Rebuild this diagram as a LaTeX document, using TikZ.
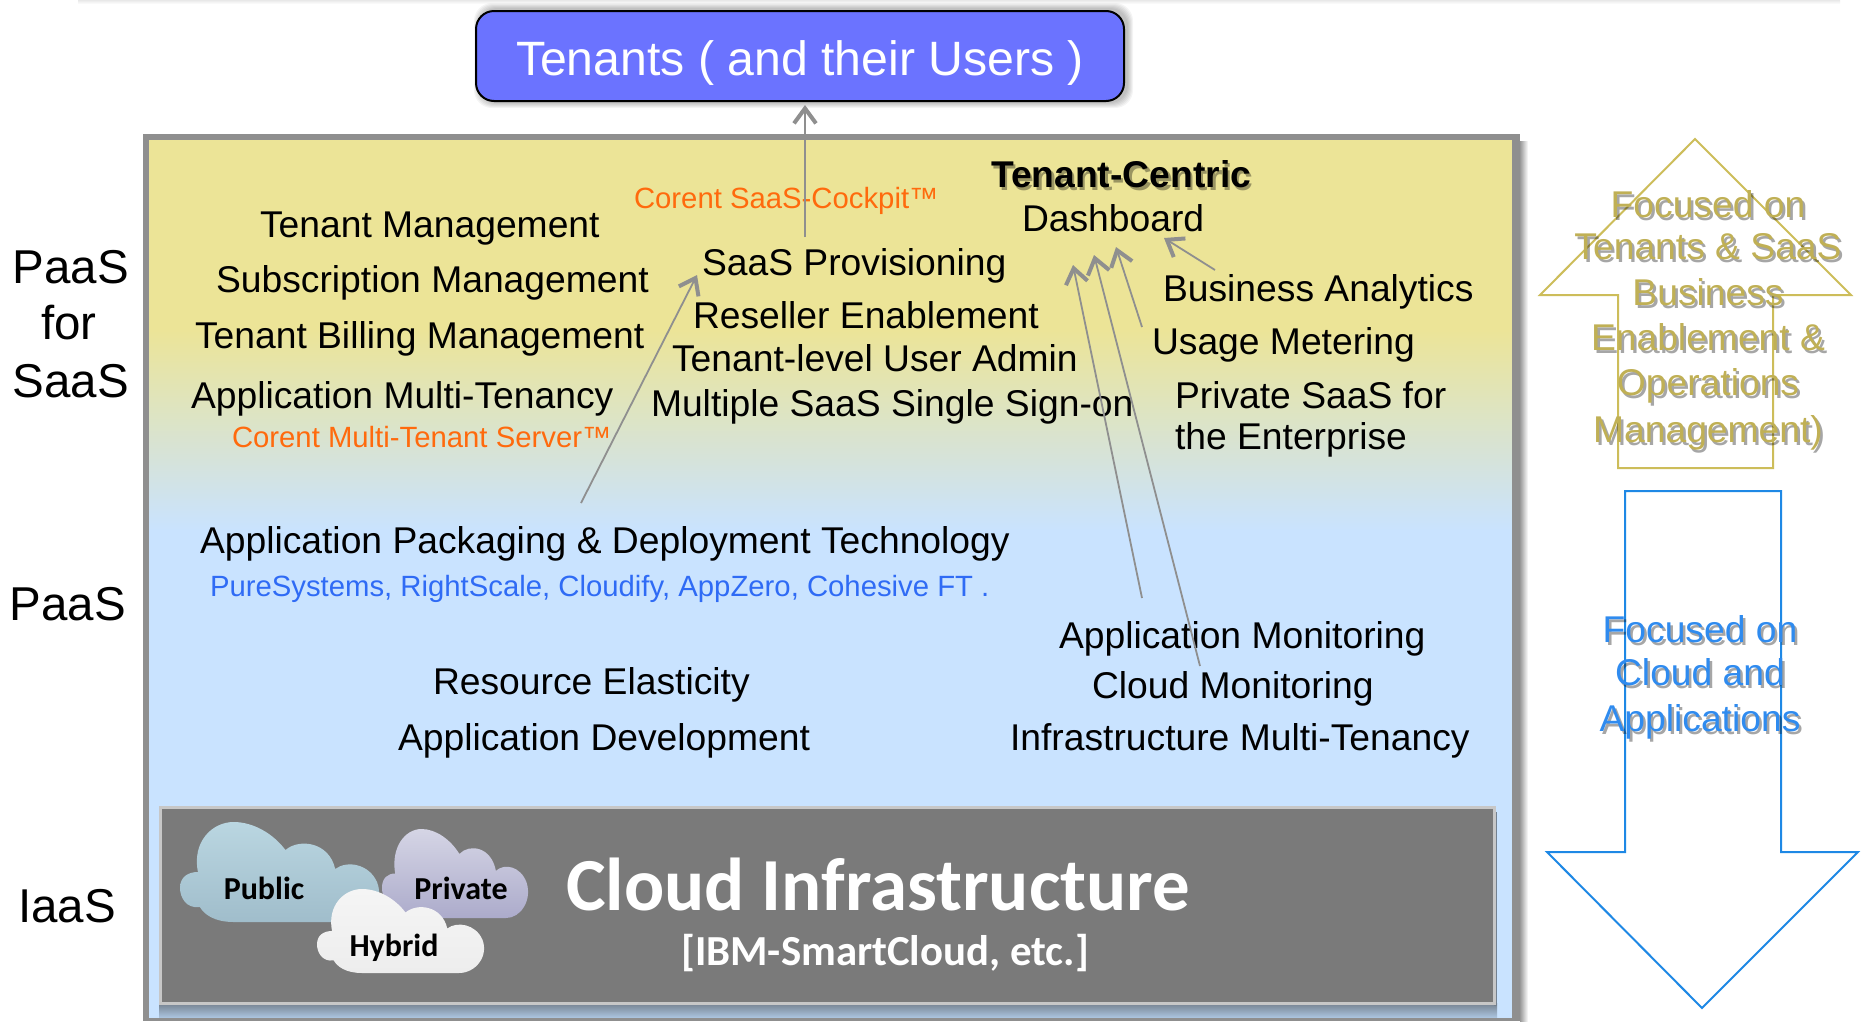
\documentclass[tikz,border=0pt]{standalone}
\usepackage{fontspec}
\setmainfont{Liberation Sans}
\newfontfamily\calfont{Carlito}
\usetikzlibrary{arrows.meta}
\definecolor{yel}{HTML}{ECE497}
\definecolor{sky}{HTML}{C9E3FF}
\definecolor{bord}{HTML}{8F8F8F}
\definecolor{gold}{HTML}{C0B055}
\definecolor{goldl}{HTML}{CDBD5A}
\definecolor{bluet}{HTML}{2F8BEF}
\definecolor{bluel}{HTML}{1E88E5}
\definecolor{orng}{HTML}{FF6A0D}
\definecolor{pure}{HTML}{2F6BF5}
\definecolor{tenb}{HTML}{6B73FF}
\definecolor{infra}{HTML}{7A7A7A}
\definecolor{pubt}{HTML}{BAD6E1}
\definecolor{pubb}{HTML}{A0BDCB}
\definecolor{prit}{HTML}{D5D5E5}
\definecolor{prib}{HTML}{ACABCB}
\definecolor{hybt}{HTML}{F5F5F5}
\definecolor{hybb}{HTML}{EDEDED}
\definecolor{shdt}{HTML}{74818F}
\definecolor{shdb}{HTML}{AAC3DD}
\tikzset{
  x=1pt,y=-1pt,
  txt/.style={inner sep=0pt,outer sep=0pt,anchor=base west,font=\fontsize{37.25}{37.25}\selectfont,text=black},
  small/.style={txt,font=\fontsize{29.3}{29.3}\selectfont},
  side/.style={inner sep=0pt,anchor=base,font=\fontsize{47.5}{47.5}\selectfont},
  foc/.style={inner sep=0pt,anchor=base,font=\fontsize{37.25}{37.25}\selectfont},
  cld/.style={inner sep=0pt,font=\calfont\bfseries\fontsize{32}{32}\selectfont,text=black},
  conn/.style={draw=bord,line width=1.8pt,-{Straight Barb[length=15pt,width=22pt,line width=4pt]},shorten >=0pt},
}
\newcommand{\cloudat}[6]{%
  \begin{scope}[shift={(#1,#2)},x=#3pt,y=-#4pt]
  \shade[top color=#5,bottom color=#6]
   (0.27,1) .. controls (0.17,1) and (0.12,0.92) .. (0.10,0.85)
   .. controls (0.03,0.87) and (0,0.75) .. (0,0.66)
   .. controls (0,0.55) and (0.04,0.5) .. (0.09,0.50)
   .. controls (0.06,0.2) and (0.16,0) .. (0.27,0)
   .. controls (0.37,0) and (0.47,0.12) .. (0.53,0.28)
   .. controls (0.6,0.16) and (0.75,0.2) .. (0.78,0.47)
   .. controls (0.84,0.38) and (0.95,0.42) .. (0.99,0.6)
   .. controls (1.03,0.8) and (0.95,1) .. (0.85,1) -- cycle;
  \end{scope}}
\newcommand{\shtext}[6]{% name, x, y, style, colour, text
  \node[#4,text=black,opacity=.35] (#1s) at (#2+2.5,#3+3) {#6};
  \node[#4,text=#5] (#1) at (#2,#3) {#6};}
\begin{document}
\begin{tikzpicture}
\useasboundingbox (0,0) rectangle (1864,1021);
\fill[white] (0,0) rectangle (1864,1021);
% top strip
\shade[top color=black!9,bottom color=white] (78,0) rectangle (1840,4);
% main panel
\shade[left color=black!40,right color=white] (1520,141) rectangle (1528,1021);
\fill[yel] (145,137) rectangle (1513,330);
\shade[top color=yel,bottom color=sky] (145,329) rectangle (1513,531);
\fill[sky] (145,530) rectangle (1513,1018);
\fill[bord] (143,134) rectangle (1520,140);
\fill[bord] (143,134) rectangle (149,1021);
\fill[bord] (1512,134) rectangle (1520,1021);
\fill[bord] (143,1018) rectangle (1520,1021);
% infrastructure
\shade[top color=shdt,bottom color=shdb] (159,1003) rectangle (1497,1017);
\fill[shdt] (1494,812) rectangle (1497,1006);
\node[draw=black!22,line width=2.5pt,fill=infra,minimum width=1334pt,minimum height=196pt,inner sep=0pt,anchor=north west] (infra) at (159,806) {};
% clouds
\cloudat{180}{822}{199}{100}{pubt}{pubb}
\cloudat{382}{829}{146}{89}{prit}{prib}
\cloudat{317}{889}{167}{84}{hybt}{hybb}
\node[cld] (public) at (264,888) {Public};
\node[cld] (private) at (461,888) {Private};
\node[cld] (hybrid) at (394,948) {Hybrid};
\node[inner sep=0pt,anchor=base,font=\calfont\bfseries\fontsize{74.9}{74.9}\selectfont,text=white] (ci) at (878,910) {Cloud Infrastructure};
\node[inner sep=0pt,anchor=base,font=\calfont\bfseries\fontsize{42.8}{42.8}\selectfont,text=white] (ibm) at (885,965) {[IBM-SmartCloud, etc.]};
% tenants
\foreach \r in {1,...,6} {\fill[black,opacity=.045,rounded corners=18pt] (480-\r,9-\r) rectangle (1127+\r,102+\r);}
\node[draw=black,line width=2pt,fill=tenb,rounded corners=18pt,minimum width=648pt,minimum height=90pt,inner sep=0pt,anchor=north west] (tenants) at (475,10) {};
\node[inner sep=0pt,anchor=base,text=white,font=\fontsize{48.2}{48.2}\selectfont] (tenlab) at (800,75) {Tenants ( and their Users )};
% side labels
\node[side] (l1) at (71,283) {PaaS};
\node[side] (l2) at (69,339) {for};
\node[side] (l3) at (71,397) {SaaS};
\node[side] (l4) at (68,620) {PaaS};
\node[side] (l5) at (67,922) {IaaS};
% left column
\node[txt] (tm) at (260,237) {Tenant Management};
\node[txt] (sm) at (216,292) {Subscription Management};
\node[txt] (tb) at (195,348) {Tenant Billing Management};
\node[txt] (am) at (191,408) {Application Multi-Tenancy};
\node[small,text=orng] (cm) at (232,447) {Corent Multi-Tenant Server™};
% centre column
\node[small,text=orng] (cc) at (634,208) {Corent SaaS-Cockpit™};
\node[txt] (sp) at (702,275) {SaaS Provisioning};
\node[txt] (re) at (693,328) {Reseller Enablement};
\node[txt] (tl) at (672,371) {Tenant-level User Admin};
\node[txt] (ms) at (651,416) {Multiple SaaS Single Sign-on};
% right column
\shtext{tc}{991}{187}{txt,font=\bfseries\fontsize{37.25}{37.25}\selectfont}{black}{Tenant-Centric}
\node[txt] (db) at (1022,231) {Dashboard};
\node[txt] (ba) at (1163,301) {Business Analytics};
\node[txt] (um) at (1152,354) {Usage Metering};
\node[txt] (ps) at (1175,408) {Private SaaS for};
\node[txt] (te) at (1175,449) {the Enterprise};
% PaaS
\node[txt] (ap) at (200,553) {Application Packaging \& Deployment Technology};
\node[small,text=pure] (pu) at (210,596) {PureSystems, RightScale, Cloudify, AppZero, Cohesive FT .};
\node[txt] (rs) at (433,694) {Resource Elasticity};
\node[txt] (ad) at (398,750) {Application Development};
\node[txt] (mo) at (1059,648) {Application Monitoring};
\node[txt] (cl) at (1092,698) {Cloud Monitoring};
\node[txt] (im) at (1010,750) {Infrastructure Multi-Tenancy};
% connectors
\coordinate (a1a) at (805,237); \coordinate (a1b) at (805,105);
\coordinate (a2a) at (581,503); \coordinate (a2b) at (697,275);
\coordinate (a3a) at (1215,270); \coordinate (a3b) at (1164,238);
\coordinate (a4a) at (1142,327); \coordinate (a4b) at (1116,247);
\coordinate (a5a) at (1142,598); \coordinate (a5b) at (1073,265);
\coordinate (a6a) at (1200,666); \coordinate (a6b) at (1094,255);
\foreach \n in {1,...,6} {\draw[conn] (a\n a) -- (a\n b);}
% block arrows
\coordinate (u1) at (1695,139);
\draw[goldl,line width=2pt,line join=miter] (u1) -- (1851,295) -- (1773,295) -- (1773,468) -- (1618,468) -- (1618,295) -- (1540,295) -- cycle;
\coordinate (d1) at (1702,1008);
\draw[bluel,line width=2pt,line join=miter] (1625,491) -- (1781,491) -- (1781,852) -- (1858,852) -- (d1) -- (1547,852) -- (1625,852) -- cycle;
% focused text
\shtext{f1}{1708}{217}{foc}{gold}{Focused on}
\shtext{f2}{1708}{259}{foc}{gold}{Tenants \& SaaS}
\shtext{f3}{1708}{305}{foc}{gold}{Business}
\shtext{f4}{1708}{350}{foc}{gold}{Enablement \&}
\shtext{f5}{1708}{395}{foc}{gold}{Operations}
\shtext{f6}{1708}{442}{foc}{gold}{Management)}
\shtext{g1}{1700}{642}{foc}{bluet}{Focused on}
\shtext{g2}{1700}{685}{foc}{bluet}{Cloud and}
\shtext{g3}{1700}{731}{foc}{bluet}{Applications}
\end{tikzpicture}
\end{document}
